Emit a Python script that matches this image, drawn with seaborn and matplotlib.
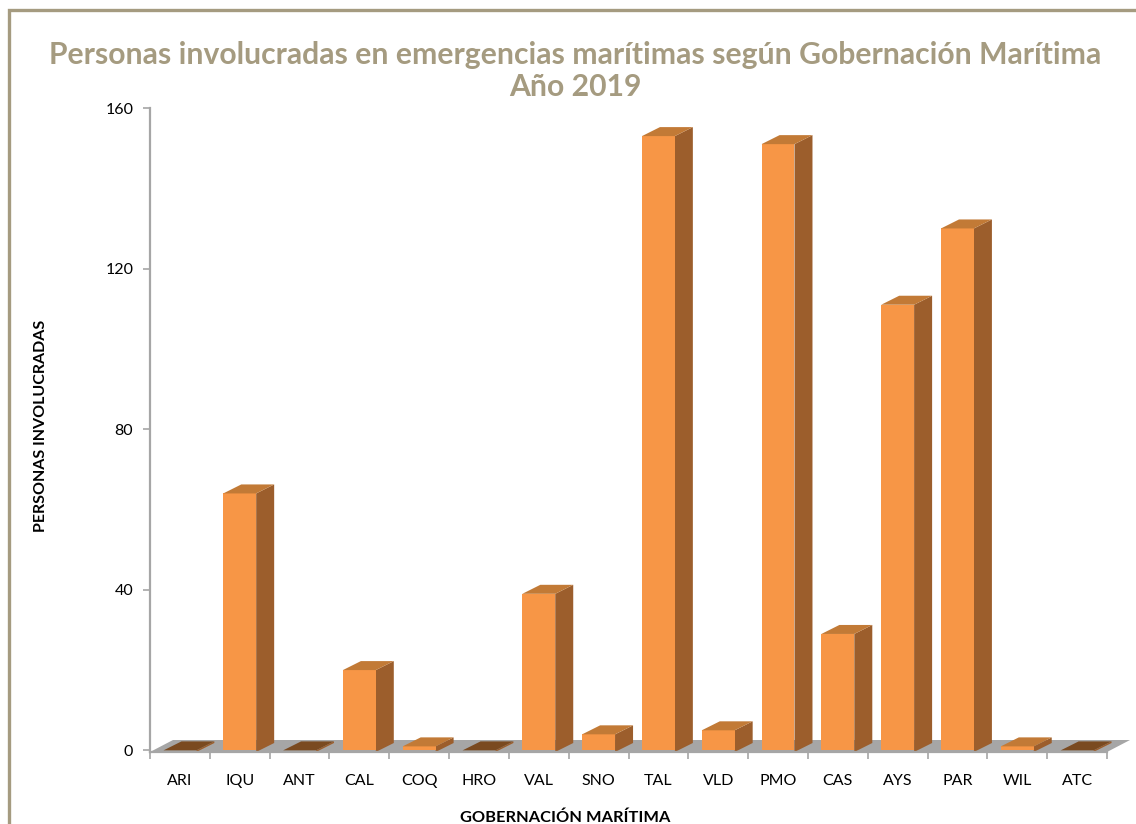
import matplotlib
matplotlib.use('Agg')
import matplotlib.pyplot as plt
from matplotlib.patches import Polygon, Rectangle
import seaborn as sns

# Data
codes = ['ARI', 'IQU', 'ANT', 'CAL', 'COQ', 'HRO', 'VAL', 'SNO',
         'TAL', 'VLD', 'PMO', 'CAS', 'AYS', 'PAR', 'WIL', 'ATC']
personas = [0, 64, 0, 20, 1, 0, 39, 4, 153, 5, 151, 29, 111, 130, 1, 0]
y_ticks = [0, 40, 80, 120, 160]

TITLE = 'Personas involucradas en emergencias marítimas según Gobernación Marítima\nAño 2019'

FRONT = '#F79646'
SIDE = '#9C5E2C'
TOP = '#C27A36'
TOP_ZERO = '#7A4A20'
FLOOR = '#A6A6A6'
FRAME = '#A59B80'

W, H = 1136, 824
# pixel sizes of the fake 3D depth
BAR_DX, BAR_DY = 18, 9
FLOOR_DX, FLOOR_DY = 23, 12

sns.set_theme(style='white')
plt.rcParams['font.family'] = ['Lato', 'DejaVu Sans']

fig = plt.figure(figsize=(W / 100, H / 100), dpi=100)
ax = fig.add_axes([150 / W, (H - 752) / H, 957 / W, 644 / H])

sns.barplot(x=codes, y=personas, color=FRONT, saturation=1, width=0.55,
            edgecolor='none', ax=ax, zorder=3)
ax.set_xlim(-0.5, len(codes) - 0.5)
ax.set_ylim(-0.4, 160)

# convert pixel depth to data units
ux = (len(codes)) / 957
uy = 160.4 / 644
bdx, bdy = BAR_DX * ux, BAR_DY * uy

# grey floor
y0 = ax.get_ylim()[0]
x0, x1 = ax.get_xlim()
ax.add_patch(Polygon([(x0, y0), (x1, y0), (x1 + FLOOR_DX * ux, y0 + FLOOR_DY * uy),
                      (x0 + FLOOR_DX * ux, y0 + FLOOR_DY * uy)],
                     closed=True, facecolor=FLOOR, edgecolor='none', clip_on=False, zorder=1))

# side and top faces, built from the bars seaborn drew
for bar, val in zip(ax.patches, personas):
    left = bar.get_x()
    right = left + bar.get_width()
    bar.set_clip_on(False)
    ax.add_patch(Polygon([(right, y0), (right + bdx, y0 + bdy), (right + bdx, val + bdy), (right, val)],
                         closed=True, facecolor=SIDE, edgecolor='none', clip_on=False, zorder=2))
    ax.add_patch(Polygon([(left, val), (right, val), (right + bdx, val + bdy), (left + bdx, val + bdy)],
                         closed=True, facecolor=TOP_ZERO if val == 0 else TOP,
                         edgecolor='none', clip_on=False, zorder=4))

for side in ['top', 'right']:
    ax.spines[side].set_visible(False)
for side in ['left', 'bottom']:
    ax.spines[side].set_color(FLOOR)
    ax.spines[side].set_linewidth(1.6)
    ax.spines[side].set_zorder(5)

ax.set_yticks(y_ticks)
ax.tick_params(axis='y', left=True, length=5, width=1.2, color=FLOOR, labelsize=11.5,
               labelcolor='black', pad=7)
# x ticks sit on the category boundaries
ax.set_xticks([i - 0.5 for i in range(len(codes) + 1)], minor=True)
ax.tick_params(axis='x', which='minor', bottom=True, length=5, width=1.2, color=FLOOR)
ax.tick_params(axis='x', which='major', bottom=False, labelsize=11.5, labelcolor='black', pad=10)

ax.set_xlabel('GOBERNACIÓN MARÍTIMA', fontsize=11.8, fontweight='bold', color='black')
ax.xaxis.set_label_coords((565 - 150) / 957, (752 - 818) / 644)
ax.xaxis.label.set_va('center')
ax.set_ylabel('PERSONAS INVOLUCRADAS', fontsize=11.5, fontweight='bold', color='black')
ax.yaxis.set_label_coords((41 - 150) / 957, (752 - 426) / 644)
ax.yaxis.label.set_va('center')

fig.text(575 / W, 1 - 71 / H, TITLE, ha='center', va='center', fontsize=21.7, fontweight='bold',
         color=FRAME, linespacing=1.14)

# frame of the chart area, open towards the right and bottom edges
fig.add_artist(Rectangle((9 / W, -0.02), 1.2, 1 - 10 / H + 0.02, transform=fig.transFigure,
                         facecolor='none', edgecolor=FRAME, linewidth=2.4))

fig.savefig('out.png', dpi=100)
